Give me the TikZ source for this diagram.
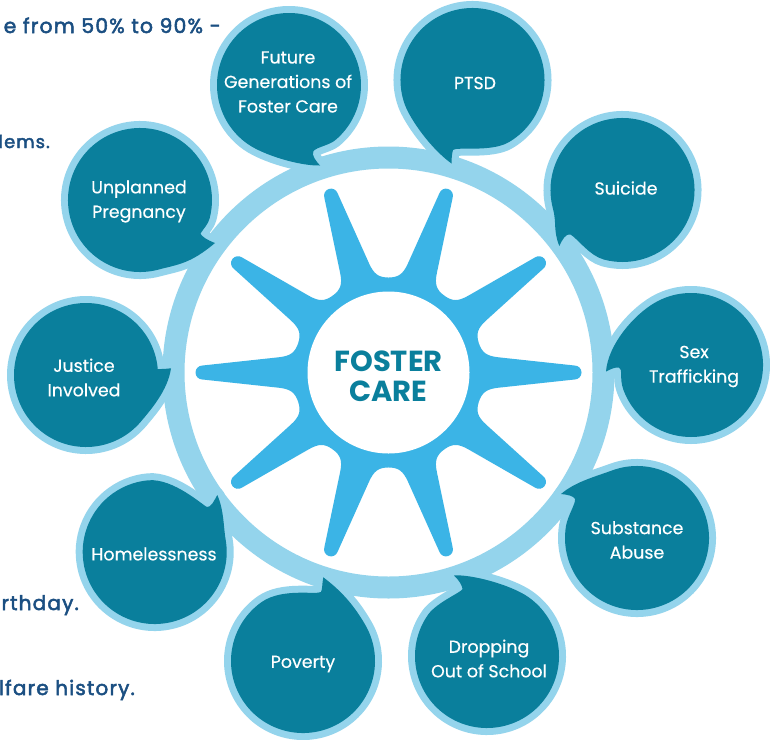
\documentclass[tikz,border=0pt]{standalone}
\usepackage{fontspec}
\setmainfont{Poppins}
\newfontfamily\bubfont[FakeBold=0.35]{Poppins}
\newfontfamily\sidefont[FakeBold=2.5,LetterSpace=6]{Poppins}
\usetikzlibrary{calc}
\definecolor{tealdark}{HTML}{0A7F9C}
\definecolor{ringblue}{HTML}{94D4EC}
\definecolor{sunblue}{HTML}{3BB4E6}
\definecolor{sidetext}{HTML}{1B4F82}
\tikzset{
  bubtext/.style={text=white,align=center,font=\bubfont\fontsize{17.4}{24.5}\selectfont,inner sep=0pt},
  sidenote/.style={text=sidetext,anchor=base east,font=\sidefont\fontsize{20}{24}\selectfont,inner sep=0pt},
  sunray/.style={fill=sunblue,draw=none},
  bubedge/.style={draw=ringblue,line width=14pt,line join=round},
  bubfill/.style={fill=tealdark,draw=none},
}
\begin{document}
\begin{tikzpicture}[x=1pt,y=-1pt]
\useasboundingbox (0,0) rectangle (770,739);
\fill[white] (0,0) rectangle (770,739);
\clip (0,0) rectangle (770,739);
\coordinate (hub) at (388.5,372.5);
% ring
\draw[ringblue,line width=22pt] (hub) circle[radius=215];
% rays
\foreach \r in {0,36,...,324}{
  \begin{scope}[shift={(hub)},rotate=\r]
  \fill[sunray] (0,0) -- (90.3,-29.4) .. controls (93.5,-19.9) and (98,-16.5) .. (110,-15.2)
     -- (186,-7) arc[start angle=-90,end angle=90,radius=7] -- (110,15.2)
     .. controls (98,16.5) and (93.5,19.9) .. (90.3,29.4) -- cycle;
  \end{scope}
}
\fill[sunblue] (hub) circle[radius=94];
\fill[white] (hub) circle[radius=81];
\node[text=tealdark,align=center,inner sep=0pt,font=\fontsize{29}{30}\selectfont\bfseries] (center) at (388.5,376) {FOSTER\\CARE};
% bubbles
\foreach \cx/\cy/\a/\b/\ka/\kb/\tip/\ca/\na/\N/\nb/\cb/\tx/\ty/\txt in {
  289/85/125/410/20/8/{320,165.5}/{300,166}/{317,147}/{313.5,151}/{311,155}/{316,161}/288/82/{Future\\Generations of\\Foster Care},
  472.5/80/160/420/15/20/{451.5,163.5}/{430,148}/{456,146.5}/{453,150}/{452,153}/{451.5,158}/475/83/{PTSD},
  622.5/190/165/465/15/15/{559.3,246}/{553,230}/{578,239}/{570.5,234.5}/{566,233}/{562,240}/626/188/{Suicide},
  691/365/240/520/25/12/{606,371.5}/{608,345}/{623,369}/{619,367.5}/{615,367}/{611,369}/694/366.5/{Sex\\Trafficking},
  637/538/250/550/20/10/{561,494}/{575,482}/{576,503}/{575,499}/{574,496}/{567,494.5}/637/540/{Substance\\Abuse},
  487/656/305/575/22/15/{454,575.5}/{470,574}/{462,592}/{462.5,589}/{462.5,586}/{459,580}/489/658.5/{Dropping\\Out of School},
  303/661/330/595/25/25/{323.3,577.3}/{340,590}/{316,595}/{321,592}/{322.5,589}/{322,584}/303/664/{Poverty},
  154.7/552/350/625/12/25/{217.3,495}/{224,510}/{203,505.5}/{207,507}/{211,507.5}/{214,501}/154/554/{Homelessness},
  86/375/40/680/15/12/{171,368.3}/{168,390}/{150,363}/{153,368.5}/{156,369.5}/{165,369}/84/377.5/{Justice\\Involved},
  140/200/75/375/20/6/{215,243}/{190,264}/{204,228}/{200.5,233.5}/{201,236}/{207,240}/139/201.5/{Unplanned\\Pregnancy}%
}{
  \coordinate (c) at (\cx,\cy);
  \coordinate (P) at ($(c)+(\a:72)$);
  \coordinate (Pc) at ($(P)+(\a-90:\ka)$);
  \coordinate (Q) at ($(c)+(\b:72)$);
  \coordinate (Qc) at ($(Q)+(\b+90:\kb)$);
  \path[bubedge] (\tip) .. controls (\ca) and (Pc) .. (P) arc[start angle=\a,end angle=\b,radius=72]
     .. controls (Qc) and (\na) .. (\N) .. controls (\nb) and (\cb) .. (\tip) -- cycle;
  \path[bubfill] (\tip) .. controls (\ca) and (Pc) .. (P) arc[start angle=\a,end angle=\b,radius=72]
     .. controls (Qc) and (\na) .. (\N) .. controls (\nb) and (\cb) .. (\tip) -- cycle;
  \node[bubtext] at (\tx,\ty) {\txt};
}
% side text
\node[sidenote,font=\sidefont\fontsize{20.3}{24}\selectfont] (n1) at (221,33) {e from 50\% to 90\% -};
\node[sidenote,font=\sidefont\fontsize{17.8}{24}\selectfont] (n2) at (50,148) {lems.};
\node[sidenote] (n3) at (79,610) {rthday.};
\node[sidenote] (n4) at (135,695) {lfare history.};
\end{tikzpicture}
\end{document}
